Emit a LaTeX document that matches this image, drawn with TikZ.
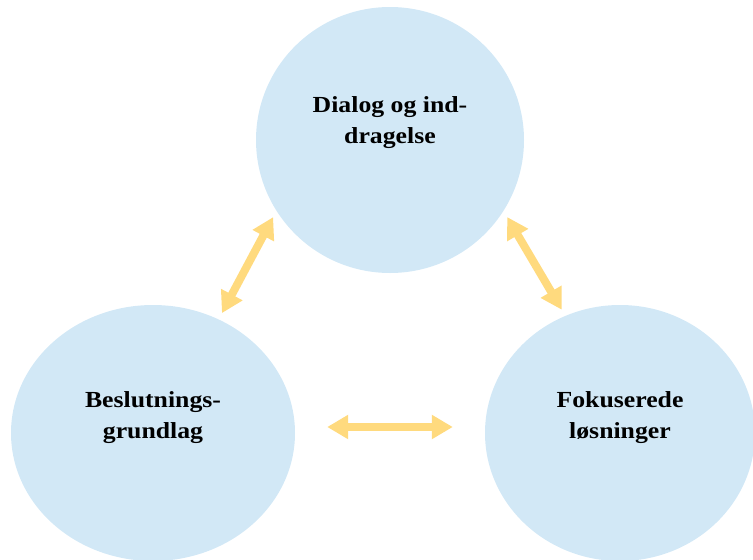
\documentclass[tikz,border=0pt]{standalone}
\usepackage{fontspec}
\setmainfont{Liberation Serif}[FakeStretch=1.12]
\usepackage{tikz}
\usetikzlibrary{arrows.meta,shapes.geometric}
\definecolor{bubblefill}{HTML}{D2E8F6}
\definecolor{arrowgold}{HTML}{FFDA7E}

\begin{document}
\begin{tikzpicture}[x=1pt,y=-1pt,
  bubble/.style={ellipse,fill=bubblefill,inner sep=0pt},
  caption/.style={align=center,inner sep=0pt,font=\fontsize{23}{31}\selectfont\bfseries},
  link/.style={{Triangle[width=23pt,length=21pt]}-{Triangle[width=23pt,length=21pt]},line width=8pt,draw=arrowgold,shorten <=7pt,shorten >=7pt}]
  \useasboundingbox (0,0) rectangle (753,560);

  \node [bubble,minimum width=268pt,minimum height=266pt] (dialog) at (390,140) {};
  \node [bubble,minimum width=284pt,minimum height=256pt] (basis) at (153,433) {};
  \node [bubble,minimum width=270pt,minimum height=256pt] (focus) at (620,433) {};

  \node [caption] (dialogtext) at ([yshift=17pt]dialog.center) {Dialog og ind-\\dragelse};
  \node [caption] (basistext) at ([yshift=15pt]basis.center) {Beslutnings-\\grundlag};
  \node [caption] (focustext) at ([yshift=15pt]focus.center) {Fokuserede\\løsninger};

  \draw[link] (basis.60) -- (dialog.212);
  \draw[link] (dialog.328) -- (focus.115);
  \draw[link,shorten <=32pt,shorten >=32pt] ([yshift=6pt]basis.east) -- ([yshift=6pt]focus.west);
\end{tikzpicture}
\end{document}
